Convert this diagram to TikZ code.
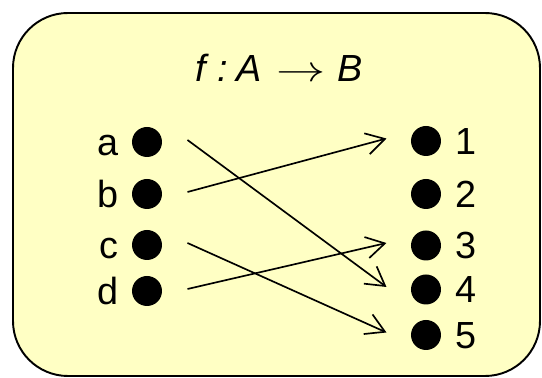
\documentclass[tikz,border=0pt]{standalone}
\usepackage{fontspec}
\setmainfont{Liberation Sans}
\usetikzlibrary{arrows.meta}
\definecolor{paleyellow}{RGB}{255,255,196}
\newcommand{\bigfont}{\fontsize{21.5}{24}\selectfont}
\tikzset{
  dot/.style={circle,fill=black,minimum size=0.6cm,inner sep=0pt},
  lbl/.style={font=\bigfont,text height=0.54cm,text depth=0pt},
  map/.style={line width=0.95pt,-{Straight Barb[length=0.37cm,width=0.43cm]}}
}
\begin{document}
\begin{tikzpicture}
  \useasboundingbox (0,0) rectangle (10.84,7.56);
  \draw[line width=1.1pt,fill=paleyellow,rounded corners=1.1cm] (0.26,0.04) rectangle (10.80,7.30);
  \node[font=\bigfont] (title) at (5.58,6.20)
    {\textit{f}\hspace{0.16cm}\textit{:}\hspace{0.18cm}\textit{A}\hspace{0.28cm}\scalebox{1.35}[1]{$\rightarrow$}\hspace{0.24cm}\textit{B}};
  % domain A
  \foreach \n/\y in {a/4.72, b/3.68, c/2.66, d/1.74} {
    \node[dot,label={[lbl,label distance=0.14cm]left:\n}] (\n) at (2.94,\y) {};
  }
  % codomain B
  \foreach \n/\y in {1/4.74, 2/3.68, 3/2.65, 4/1.77, 5/0.86} {
    \node[dot,label={[lbl,label distance=0.16cm]right:\n}] (r\n) at (8.52,\y) {};
  }
  \foreach \s/\t in {a/4, b/1, c/5, d/3} {
    \draw[map] ([shift={(0.81,0.04)}]\s.center) -- ([shift={(-0.79,0.05)}]r\t.center);
  }
\end{tikzpicture}
\end{document}
